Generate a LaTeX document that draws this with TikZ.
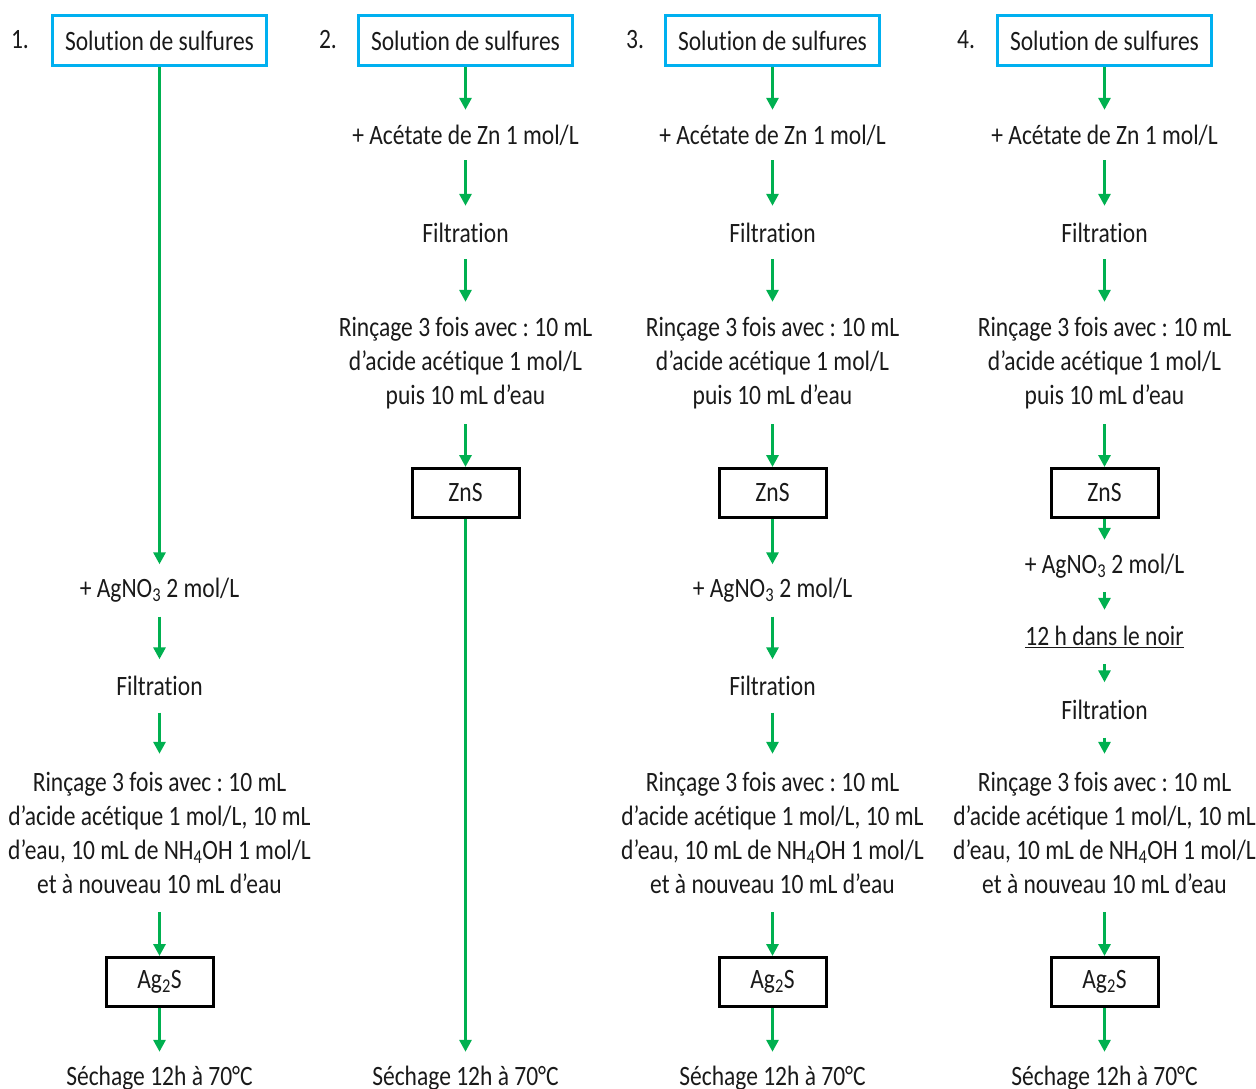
\documentclass[tikz,border=0pt]{standalone}
\usepackage{fontspec}
\setmainfont{Carlito}[FakeStretch=0.84,Ligatures=NoCommon]
\usetikzlibrary{arrows.meta}
\definecolor{bl}{RGB}{0,176,240}
\definecolor{gr}{RGB}{0,176,80}
\definecolor{tx}{RGB}{26,26,26}
\frenchspacing
\begin{document}
\begin{tikzpicture}[x=1pt,y=-1pt,
 every node/.style={font=\fontsize{28}{34}\selectfont, text=tx},
 startbox/.style={draw=bl, line width=3pt, minimum width=214pt, minimum height=50pt, inner sep=0pt},
 prodbox/.style={draw=black, line width=3pt, minimum width=107pt, minimum height=49pt, inner sep=0pt},
 stepone/.style={align=center, minimum height=52pt, inner sep=0pt},
 arr/.style={draw=gr, line width=3pt, -{Triangle[width=12pt,length=12pt]}}
]
\useasboundingbox (0,0) rectangle (1256,1089);
\def\rinA{Rinçage 3 fois avec : 10 mL\\d’acide acétique 1 mol/L\\puis 10 mL d’eau}
\def\rinB{Rinçage 3 fois avec : 10 mL\\d’acide acétique 1 mol/L, 10 mL\\d’eau, 10 mL de NH\textsubscript{4}OH 1 mol/L\\et à nouveau 10 mL d’eau}
% column 1
\node (n1) at (20,40) {1.};
\node[startbox] (s1) at (159.5,40.5) {Solution de sulfures};
\node[stepone] (ag1) at (159.5,590.5) {+ AgNO\textsubscript{3} 2 mol/L};
\node[stepone, minimum height=53pt] (fi1) at (159.5,686) {Filtration};
\node[stepone, minimum height=158pt] (ri1) at (159.5,833) {\rinB};
\node[prodbox] (p1) at (159.5,982) {Ag\textsubscript{2}S};
\node[stepone] (se1) at (159.5,1078) {Séchage 12h à 70°C};
\draw[arr] (s1.south) -- (ag1.north);
\draw[arr] (ag1.south) -- (fi1.north);
\draw[arr] (fi1.south) -- (ri1.north);
\draw[arr] (ri1.south) -- (p1.north);
\draw[arr] (p1.south) -- (se1.north);
% column 2
\node (n2) at (328,40) {2.};
\node[startbox] (s2) at (465.5,40.5) {Solution de sulfures};
\node[stepone, minimum height=50pt] (ac2) at (465.5,135) {+ Acétate de Zn 1 mol/L};
\node[stepone, minimum height=53pt] (fi2) at (465.5,232.5) {Filtration};
\node[stepone, minimum height=122pt] (ri2) at (465.5,363) {\rinA};
\node[prodbox] (z2) at (465.5,493) {ZnS};
\node[stepone] (se2) at (465.5,1078) {Séchage 12h à 70°C};
\draw[arr] (s2.south) -- (ac2.north);
\draw[arr] (ac2.south) -- (fi2.north);
\draw[arr] (fi2.south) -- (ri2.north);
\draw[arr] (ri2.south) -- (z2.north);
\draw[arr] (z2.south) -- (se2.north);
% column 3
\node (n3) at (635,40) {3.};
\node[startbox] (s3) at (772.5,40.5) {Solution de sulfures};
\node[stepone, minimum height=50pt] (ac3) at (772.5,135) {+ Acétate de Zn 1 mol/L};
\node[stepone, minimum height=53pt] (fi3) at (772.5,232.5) {Filtration};
\node[stepone, minimum height=122pt] (ri3) at (772.5,363) {\rinA};
\node[prodbox] (z3) at (772.5,493) {ZnS};
\node[stepone] (ag3) at (772.5,590.5) {+ AgNO\textsubscript{3} 2 mol/L};
\node[stepone, minimum height=53pt] (fi3b) at (772.5,686) {Filtration};
\node[stepone, minimum height=158pt] (ri3b) at (772.5,833) {\rinB};
\node[prodbox] (p3) at (772.5,982) {Ag\textsubscript{2}S};
\node[stepone] (se3) at (772.5,1078) {Séchage 12h à 70°C};
\draw[arr] (s3.south) -- (ac3.north);
\draw[arr] (ac3.south) -- (fi3.north);
\draw[arr] (fi3.south) -- (ri3.north);
\draw[arr] (ri3.south) -- (z3.north);
\draw[arr] (z3.south) -- (ag3.north);
\draw[arr] (ag3.south) -- (fi3b.north);
\draw[arr] (fi3b.south) -- (ri3b.north);
\draw[arr] (ri3b.south) -- (p3.north);
\draw[arr] (p3.south) -- (se3.north);
% column 4
\node (n4) at (966,40) {4.};
\node[startbox] (s4) at (1104.5,40.5) {Solution de sulfures};
\node[stepone, minimum height=50pt] (ac4) at (1104.5,135) {+ Acétate de Zn 1 mol/L};
\node[stepone, minimum height=53pt] (fi4) at (1104.5,232.5) {Filtration};
\node[stepone, minimum height=122pt] (ri4) at (1104.5,363) {\rinA};
\node[prodbox] (z4) at (1104.5,493) {ZnS};
\node[stepone] (ag4) at (1104.5,566) {+ AgNO\textsubscript{3} 2 mol/L};
\node[stepone, minimum height=54pt] (nr4) at (1104.5,637) {\underline{12 h dans le noir}};
\node[stepone, minimum height=55pt] (fi4b) at (1104.5,710) {Filtration};
\node[stepone, minimum height=158pt] (ri4b) at (1104.5,833) {\rinB};
\node[prodbox] (p4) at (1104.5,982) {Ag\textsubscript{2}S};
\node[stepone] (se4) at (1104.5,1078) {Séchage 12h à 70°C};
\draw[arr] (s4.south) -- (ac4.north);
\draw[arr] (ac4.south) -- (fi4.north);
\draw[arr] (fi4.south) -- (ri4.north);
\draw[arr] (ri4.south) -- (z4.north);
\draw[arr] (z4.south) -- (ag4.north);
\draw[arr] (ag4.south) -- (nr4.north);
\draw[arr] (nr4.south) -- (fi4b.north);
\draw[arr] (fi4b.south) -- (ri4b.north);
\draw[arr] (ri4b.south) -- (p4.north);
\draw[arr] (p4.south) -- (se4.north);
\end{tikzpicture}
\end{document}
